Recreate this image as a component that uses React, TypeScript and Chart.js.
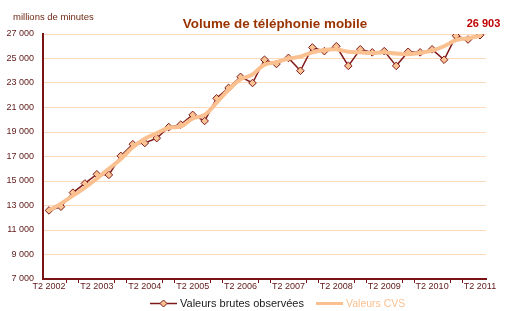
import React, { useEffect, useRef } from 'react';
import { Chart, registerables } from 'chart.js';

Chart.register(...registerables);

const categories = [
  'T2 2002', 'T3 2002', 'T4 2002', 'T1 2003',
  'T2 2003', 'T3 2003', 'T4 2003', 'T1 2004',
  'T2 2004', 'T3 2004', 'T4 2004', 'T1 2005',
  'T2 2005', 'T3 2005', 'T4 2005', 'T1 2006',
  'T2 2006', 'T3 2006', 'T4 2006', 'T1 2007',
  'T2 2007', 'T3 2007', 'T4 2007', 'T1 2008',
  'T2 2008', 'T3 2008', 'T4 2008', 'T1 2009',
  'T2 2009', 'T3 2009', 'T4 2009', 'T1 2010',
  'T2 2010', 'T3 2010', 'T4 2010', 'T1 2011',
  'T2 2011',
];

const rawValues = [
  12600, 12900, 14050, 14800,
  15550, 15500, 17050, 18000,
  18100, 18500, 19400, 19600,
  20400, 19900, 21750, 22600,
  23500, 23000, 24900, 24550,
  25050, 24000, 25900, 25600,
  26000, 24400, 25750, 25500,
  25600, 24400, 25550, 25500,
  25750, 24900, 26850, 26550,
  26903,
];

const cvsValues = [
  12600, 13150, 13800, 14450,
  15200, 16000, 16800, 17750,
  18450, 18900, 19350, 19450,
  20100, 20400, 21400, 22450,
  23300, 23700, 24500, 24700,
  25000, 25150, 25500, 25700,
  25750, 25550, 25500, 25450,
  25500, 25400, 25350, 25450,
  25650, 26000, 26500, 26650,
  26850,
];

const yMin = 7000;
const yMax = 27000;
const yStep = 2000;

const titleText = 'Volume de téléphonie mobile';
const unitText = 'millions de minutes';
const lastValueLabel = '26 903';
const rawLabel = 'Valeurs brutes observées';
const cvsLabel = 'Valeurs CVS';

const FONT = '"Liberation Sans", Arial, sans-serif';
const axisColor = '#7a1414';
const tickColor = '#5e1818';
const gridColor = '#fcd9bb';
const rawColor = '#7f1919';
const markerFill = '#f9c394';
const cvsColor = '#fac090';

const fmt = (v: number) => String(v).replace(/\B(?=(\d{3})+(?!\d))/g, ' ');

const textPlugin = {
  id: 'textPlugin',
  afterDraw(chart: any) {
    const ctx = chart.ctx as CanvasRenderingContext2D;
    ctx.save();
    ctx.textBaseline = 'middle';

    ctx.font = `9.5px ${FONT}`;
    ctx.fillStyle = '#6e2a14';
    ctx.textAlign = 'left';
    ctx.fillText(unitText, 13, 17);

    ctx.font = `bold 13.4px ${FONT}`;
    ctx.fillStyle = '#993300';
    ctx.textAlign = 'center';
    ctx.fillText(titleText, 275, 24);

    const meta = chart.getDatasetMeta(0);
    const last = meta.data[meta.data.length - 1];
    ctx.font = `bold 11px ${FONT}`;
    ctx.fillStyle = '#c00000';
    ctx.textAlign = 'center';
    ctx.fillText(lastValueLabel, last.x + 3.5, last.y - 11);

    // legend
    const ly = 303.5;
    ctx.strokeStyle = rawColor;
    ctx.lineWidth = 1.5;
    ctx.beginPath();
    ctx.moveTo(150, ly);
    ctx.lineTo(177, ly);
    ctx.stroke();
    ctx.beginPath();
    const cx = 163.5;
    const r = 3.5;
    ctx.moveTo(cx - r, ly);
    ctx.lineTo(cx, ly - r);
    ctx.lineTo(cx + r, ly);
    ctx.lineTo(cx, ly + r);
    ctx.closePath();
    ctx.fillStyle = markerFill;
    ctx.fill();
    ctx.lineWidth = 1;
    ctx.stroke();

    ctx.font = `11px ${FONT}`;
    ctx.textAlign = 'left';
    ctx.fillStyle = '#1a1a1a';
    ctx.fillText(rawLabel, 180, 304);

    ctx.strokeStyle = cvsColor;
    ctx.lineWidth = 3;
    ctx.beginPath();
    ctx.moveTo(316, ly);
    ctx.lineTo(343, ly);
    ctx.stroke();

    ctx.font = `10.5px ${FONT}`;
    ctx.fillStyle = cvsColor;
    ctx.fillText(cvsLabel, 346, 304);

    ctx.restore();
  },
};

export default function App() {
  const canvasRef = useRef<HTMLCanvasElement | null>(null);

  useEffect(() => {
    document.body.style.margin = '0';
    const canvas = canvasRef.current;
    if (!canvas) return;
    Chart.defaults.font.family = FONT;
    const chart = new Chart(canvas, {
      type: 'line',
      data: {
        labels: categories,
        datasets: [
          {
            label: rawLabel,
            data: rawValues,
            borderColor: rawColor,
            borderWidth: 1.5,
            backgroundColor: markerFill,
            pointStyle: 'rectRot',
            pointRadius: 3.8,
            pointBorderWidth: 1,
            pointBorderColor: rawColor,
            pointBackgroundColor: markerFill,
            tension: 0,
            order: 2,
          },
          {
            label: cvsLabel,
            data: cvsValues,
            borderColor: cvsColor,
            borderWidth: 4,
            pointRadius: 0,
            tension: 0.4,
            order: 1,
          },
        ],
      },
      options: {
        responsive: false,
        animation: false,
        devicePixelRatio: 1,
        layout: { padding: { left: 0, right: 25, top: 34, bottom: 0 } },
        plugins: {
          legend: { display: false },
          title: { display: false },
          tooltip: { enabled: false },
        },
        scales: {
          x: {
            type: 'category',
            offset: true,
            grid: {
              offset: true,
              drawOnChartArea: false,
              drawTicks: true,
              tickLength: 4,
              lineWidth: 1,
              color: (c: any) =>
                c.index % 4 === 2 || c.index % 4 === 3 ? axisColor : 'rgba(0,0,0,0)',
            },
            border: { color: axisColor, width: 2 },
            ticks: {
              autoSkip: false,
              maxRotation: 0,
              minRotation: 0,
              padding: -2,
              font: { size: 9 },
              color: tickColor,
              callback: (_v: any, i: number) => (i % 4 === 0 ? categories[i] : ''),
            },
            afterFit: (s: any) => {
              s.height = 32;
            },
          },
          y: {
            min: yMin,
            max: yMax,
            grid: { color: gridColor, drawTicks: false, lineWidth: 1 },
            border: { color: axisColor, width: 2 },
            ticks: {
              stepSize: yStep,
              padding: 9,
              font: { size: 9 },
              color: tickColor,
              callback: (v: any) => fmt(Number(v)),
            },
            afterFit: (s: any) => {
              s.width = 43;
            },
          },
        },
      },
      plugins: [textPlugin],
    });
    return () => chart.destroy();
  }, []);

  return (
    <div style={{ position: 'absolute', left: 0, top: 0, width: 511, height: 311, background: '#fff' }}>
      <canvas ref={canvasRef} width={511} height={311} />
    </div>
  );
}
